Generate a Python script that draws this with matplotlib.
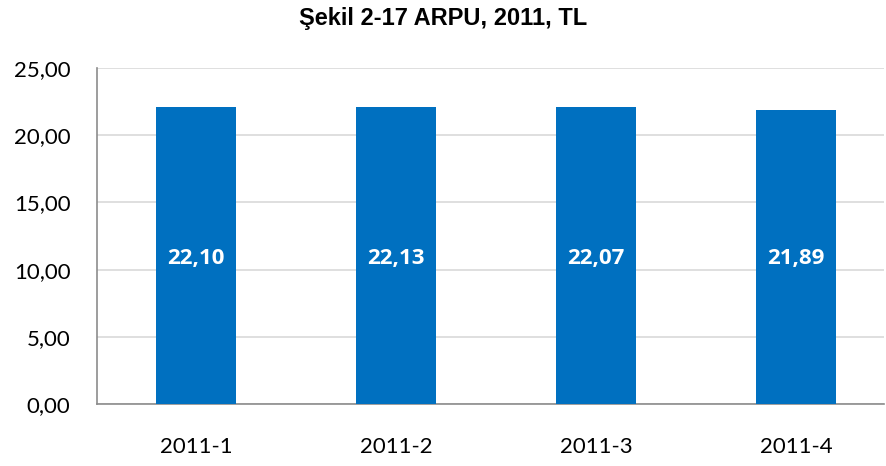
import matplotlib
matplotlib.use("Agg")
import matplotlib.pyplot as plt

# ARPU per quarter, 2011 (TL)
quarters = ["2011-1", "2011-2", "2011-3", "2011-4"]
arpu = [22.10, 22.13, 22.07, 21.89]
yticks = [0, 5, 10, 15, 20, 25]

def tr(v):
    return f"{v:.2f}".replace(".", ",")

fig = plt.figure(figsize=(8.86, 4.66), dpi=100)
ax = fig.add_axes([97 / 886, 62 / 466, (884 - 97) / 886, (404 - 68) / 466])

x = list(range(len(quarters)))
ax.bar(x, arpu, width=0.4, color="#0070C0", zorder=3)

for xi, v in zip(x, arpu):
    ax.text(xi, 10.8, tr(v), ha="center", va="center", color="white",
            fontsize=16, fontweight="bold", family="Open Sans", zorder=4)

ax.set_ylim(0, 25)
ax.set_xlim(-0.495, 3.44)
ax.set_yticks(yticks)
ax.set_yticklabels([tr(t) for t in yticks], family="Lato", fontsize=16)
ax.set_xticks(x)
ax.set_xticklabels(quarters, family="Lato", fontsize=16)
ax.tick_params(length=0)
ax.tick_params(axis="y", pad=19)
ax.tick_params(axis="x", pad=24)
ax.grid(axis="y", color="#d9d9d9", linewidth=1.2, zorder=0)

for s in ["top", "right"]:
    ax.spines[s].set_visible(False)
for s in ["left", "bottom"]:
    ax.spines[s].set_color("#8c8c8c")
    ax.spines[s].set_linewidth(1.2)

fig.text(443 / 886, 1 - 18 / 466, "Şekil 2-17 ARPU, 2011, TL", ha="center", va="center",
         fontsize=17, fontweight="bold", family="Liberation Sans")

fig.savefig("out.png", dpi=100)
